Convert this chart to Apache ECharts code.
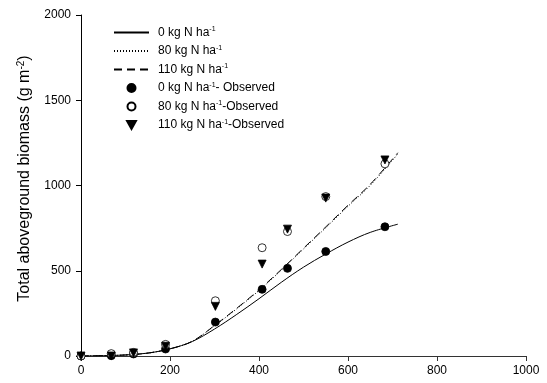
<!DOCTYPE html>
<html>
<head>
<meta charset="utf-8">
<script src="https://cdn.jsdelivr.net/npm/echarts@6/dist/echarts.min.js"></script>
<style>
  html, body { margin: 0; padding: 0; background: #fff; }
  #chart { width: 547px; height: 383px; }
</style>
</head>
<body>
<div id="chart"></div>
<script>
// Simulated biomass curves (x = thermal time, y = g m-2)
const simX = [0, 50, 100, 150, 200, 250, 300, 350, 400, 450, 500, 550, 600, 650, 712];
const sim0 = [0, 2, 6, 17, 42, 85, 158, 244, 336, 432, 521, 598, 668, 725, 773];
const sim80 = [0, 2, 6, 17, 42, 86, 177, 277, 384, 503, 628, 752, 878, 1001, 1185];
const sim110 = [0, 2, 6, 17, 42, 86, 179, 280, 388, 507, 632, 757, 884, 1007, 1192];

// Observed samples
const obsX = [0, 68, 118, 190, 302, 407, 464, 550, 683];
const obs0 = [0, 2, 12, 41, 199, 391, 514, 613, 758];
const obs80 = [0, 14, 21, 68, 324, 635, 730, 935, 1127];
const obs110 = [0, 0, 18, 57, 291, 539, 744, 926, 1150];

const xTicks = [0, 200, 400, 600, 800, 1000];
const yTicks = [0, 500, 1000, 1500, 2000];

const pairs = (xs, ys) => xs.map((x, i) => [x, ys[i]]);
const FONT = 'Liberation Sans, Arial, sans-serif';
const DOWN_TRIANGLE = 'path://M0,0L10,0L5,9Z';

const names = [
  '0 kg N ha{s|-1}',
  '80 kg N ha{s|-1}',
  '110 kg N ha{s|-1}',
  '0 kg N ha{s|-1}- Observed',
  '80 kg N ha{s|-1}-Observed',
  '110 kg N ha{s|-1}-Observed'
];

const lineSeries = (name, ys, type) => ({
  name, type: 'line', data: pairs(simX, ys), smooth: 0.35,
  symbol: 'none', showSymbol: false, z: 2,
  lineStyle: { color: '#000', width: 1, type },
  itemStyle: { color: '#000' }
});
const scatterSeries = (name, ys, symbol, fill, size) => ({
  name, type: 'scatter', data: pairs(obsX, ys), symbol, symbolSize: size, z: 3,
  itemStyle: { color: fill, borderColor: '#000', borderWidth: 0.8, opacity: 1 }
});

const chart = echarts.init(document.getElementById('chart'));
chart.setOption({
  animation: false,
  backgroundColor: '#fff',
  textStyle: { fontFamily: FONT },
  grid: { left: 81, right: 21, top: 15, bottom: 27, containLabel: false },
  legend: {
    orient: 'vertical', left: 108, top: 21,
    itemWidth: 35, itemHeight: 8, itemGap: 6,
    textStyle: {
      fontFamily: FONT, fontSize: 12, color: '#000', padding: [0, 0, 0, 4],
      rich: { s: { fontSize: 7, verticalAlign: 'top', padding: [0, 0, 6, 0], fontFamily: FONT } }
    },
    data: [
      { name: names[0], itemStyle: { opacity: 0 } },
      { name: names[1], itemStyle: { opacity: 0 } },
      { name: names[2], itemStyle: { opacity: 0 } },
      { name: names[3], icon: 'circle' },
      { name: names[4], icon: 'circle' },
      { name: names[5], icon: DOWN_TRIANGLE }
    ]
  },
  xAxis: {
    type: 'value', min: 0, max: 1000, interval: 200,
    axisLine: { show: true, lineStyle: { color: '#333', width: 1 } },
    axisTick: { show: true, inside: false, length: 5, lineStyle: { color: '#333' } },
    axisLabel: {
      color: '#000', fontSize: 12, fontFamily: FONT, margin: 9,
      formatter: v => (xTicks.includes(v) ? String(v) : '')
    },
    splitLine: { show: false }
  },
  yAxis: {
    type: 'value', min: 0, max: 2000, interval: 500,
    name: 'Total aboveground biomass (g m{s|-2})',
    nameLocation: 'middle', nameRotate: 90, nameGap: 47,
    nameTextStyle: {
      color: '#000', fontSize: 16, fontFamily: FONT, padding: [0, 0, 0, 14],
      rich: { s: { fontSize: 10, verticalAlign: 'top', padding: [0, 0, 8, 0], fontFamily: FONT } }
    },
    axisLine: { show: true, lineStyle: { color: '#000', width: 1 } },
    axisTick: { show: true, inside: false, length: 5, lineStyle: { color: '#000' } },
    axisLabel: {
      color: '#000', fontSize: 12, fontFamily: FONT, margin: 10,
      formatter: v => (yTicks.includes(v) ? String(v) : '')
    },
    splitLine: { show: false }
  },
  series: [
    lineSeries(names[0], sim0, 'solid'),
    lineSeries(names[1], sim80, [1, 2]),
    lineSeries(names[2], sim110, [8, 5]),
    scatterSeries(names[3], obs0, 'circle', '#000', 8),
    scatterSeries(names[4], obs80, 'circle', '#fff', 8),
    scatterSeries(names[5], obs110, DOWN_TRIANGLE, '#000', 8)
  ]
});
</script>
</body>
</html>
